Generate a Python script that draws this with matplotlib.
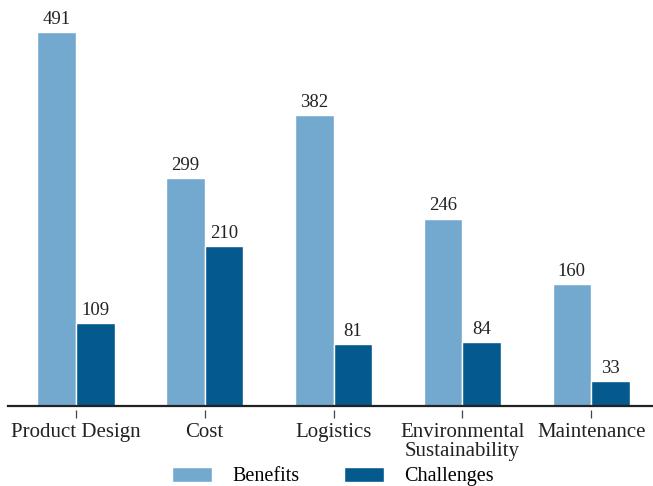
import matplotlib
matplotlib.use("Agg")
import matplotlib.pyplot as plt
import numpy as np

categories = ["Product Design", "Cost", "Logistics", "Environmental\nSustainability", "Maintenance"]
benefits = [491, 299, 382, 246, 160]
challenges = [109, 210, 81, 84, 33]
series_names = ["Benefits", "Challenges"]
colors = ["#74a9cf", "#045a8d"]

plt.rcParams['font.family'] = ['Liberation Serif', 'DejaVu Serif']

fig = plt.figure(figsize=(6.53, 4.86), dpi=100)
ax = fig.add_axes([8/653, 80/486, 645/653, 406/486])

x = np.arange(len(categories))
w = 0.3
b1 = ax.bar(x - w/2, benefits, w, color=colors[0], edgecolor="white", linewidth=1.0, label=series_names[0])
b2 = ax.bar(x + w/2, challenges, w, color=colors[1], edgecolor="white", linewidth=1.0, label=series_names[1])

for bars, vals in ((b1, benefits), (b2, challenges)):
    for r, v in zip(bars, vals):
        ax.annotate(str(v), (r.get_x() + r.get_width()/2, r.get_height()),
                    xytext=(0, 3), textcoords="offset points",
                    ha="center", va="bottom", fontsize=13.5, color="#222222")

ax.set_xlim(-0.527, 4.48)
ax.set_ylim(0, 533)
for s in ["top", "right", "left"]:
    ax.spines[s].set_visible(False)
ax.spines["bottom"].set_position(("outward", 3))
ax.spines["bottom"].set_visible(False)
ax.axhline(0, color="#222222", lw=1.6, clip_on=False)
ax.set_yticks([])
ax.set_xticks(x)
ax.set_xticklabels(categories, linespacing=1.05)
ax.tick_params(axis="x", direction="out", length=6, width=0.9, color="#444444", pad=3,
               labelsize=15, labelcolor="#222222")

leg = fig.legend(handles=[b1, b2], labels=series_names, loc="lower center",
                 bbox_to_anchor=(0.51, -0.038), ncol=2, frameon=False, fontsize=14.5,
                 handlelength=2.0, handleheight=0.8, columnspacing=2.2, handletextpad=1.0)

fig.savefig("out.png", dpi=100)
